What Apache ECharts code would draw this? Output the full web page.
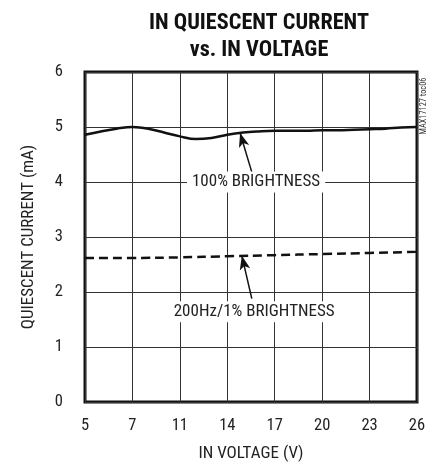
<!DOCTYPE html>
<html><head><meta charset="utf-8">
<script src="https://cdn.jsdelivr.net/npm/echarts@6/dist/echarts.min.js"></script>
<style>html,body{margin:0;padding:0;background:#fff}#c{width:429px;height:467px}</style>
</head><body><div id="c"></div>
<script>
// Tick labels as printed on the reference (position 8 V is printed "7")
const xTickValues = [5, 8, 11, 14, 17, 20, 23, 26];
const xTickLabels = ['5', '7', '11', '14', '17', '20', '23', '26'];
const yTickLabels = ['0', '1', '2', '3', '4', '5', '6'];

const solidVoltage = [5, 6, 7, 8, 9, 10, 11, 12, 13, 14, 15, 16, 17, 18, 19, 20, 21, 22, 23, 24, 25, 26];
const solidCurrent = [4.86, 4.92, 4.97, 5.00, 4.97, 4.90, 4.83, 4.78, 4.80, 4.86, 4.90, 4.92, 4.93, 4.93, 4.93, 4.94, 4.94, 4.95, 4.96, 4.97, 4.99, 5.00];

const dashVoltage = [5, 8, 11, 14, 17, 20, 23, 26];
const dashCurrent = [2.62, 2.62, 2.63, 2.65, 2.67, 2.69, 2.71, 2.73];

// pick a narrow font if one is installed, otherwise a regular one
const cv = document.createElement('canvas').getContext('2d');
function w(font, txt) { cv.font = font; return cv.measureText(txt).width; }
function has(fam) {
  const t = 'mmmmwwwwIIIIllll0123';
  return w('72px "' + fam + '", monospace', t) !== w('72px monospace', t) ||
         w('72px "' + fam + '", serif', t) !== w('72px serif', t);
}
let FAM = 'Liberation Sans';
for (const f of ['Liberation Sans Narrow', 'Arial Narrow', 'Roboto Condensed', 'DejaVu Sans Condensed']) {
  if (has(f)) { FAM = f; break; }
}
const FONT = '"' + FAM + '", "Liberation Sans", Arial, sans-serif';
function fit(txt, target, weight) { return 100 * target / w((weight || 'normal') + ' 100px ' + FONT, txt); }

const titleSize = Math.min(23, fit('IN QUIESCENT CURRENT', 220, 'bold'));
const nameSize = Math.min(17, (fit('IN VOLTAGE (V)', 104) + fit('QUIESCENT CURRENT (mA)', 198)) / 2);
const annSize = Math.min(17, fit('100% BRIGHTNESS', 132));
const tickSize = 16.5;
const tagSize = Math.min(9, fit('MAX17127 toc06', 57));

const chart = echarts.init(document.getElementById('c'));
chart.setOption({
  animation: false,
  backgroundColor: '#fff',
  title: {
    text: 'IN QUIESCENT CURRENT\nvs. IN VOLTAGE',
    left: 254, top: 5, textAlign: 'center',
    textStyle: { fontFamily: FONT, fontWeight: 'bold', fontSize: titleSize, lineHeight: 27, color: '#111' }
  },
  grid: { left: 85, right: 12, top: 72, bottom: 64, show: true, borderColor: '#111', borderWidth: 3, backgroundColor: 'transparent' },
  xAxis: {
    type: 'value', min: 5, max: 26, interval: 3,
    name: 'IN VOLTAGE (V)', nameLocation: 'middle', nameGap: 43,
    nameTextStyle: { fontFamily: FONT, fontSize: nameSize, color: '#222' },
    axisLine: { show: false }, axisTick: { show: false },
    axisLabel: { margin: 15, fontFamily: FONT, fontSize: tickSize, color: '#222',
      formatter: v => { const i = xTickValues.indexOf(v); return i >= 0 ? xTickLabels[i] : ''; } },
    splitLine: { show: true, lineStyle: { color: '#333', width: 1 } }
  },
  yAxis: {
    type: 'value', min: 0, max: 6, interval: 1,
    name: 'QUIESCENT CURRENT (mA)', nameLocation: 'middle', nameGap: 48, nameRotate: 90,
    nameTextStyle: { fontFamily: FONT, fontSize: nameSize, color: '#222' },
    axisLine: { show: false }, axisTick: { show: false },
    axisLabel: { margin: 22, fontFamily: FONT, fontSize: tickSize, color: '#222',
      formatter: v => yTickLabels[Math.round(v)] },
    splitLine: { show: true, lineStyle: { color: '#333', width: 1 } }
  },
  series: [
    {
      type: 'line', smooth: 0.4, symbol: 'none',
      data: solidVoltage.map((v, i) => [v, solidCurrent[i]]),
      lineStyle: { color: '#111', width: 2.5 },
      markLine: {
        silent: true, symbol: ['none', 'arrow'], symbolSize: [8, 14],
        lineStyle: { color: '#111', width: 1.5, type: 'solid' }, label: { show: false },
        data: [[{ coord: [15.55, 4.18] }, { coord: [14.81, 4.89] }]]
      },
      markPoint: {
        silent: true, symbol: 'rect', symbolSize: 0,
        label: { show: true, position: 'inside', formatter: '100% BRIGHTNESS', fontFamily: FONT, fontSize: annSize, color: '#222',
          backgroundColor: '#fff', padding: [2, 5] },
        data: [{ coord: [15.82, 4.0] }]
      }
    },
    {
      type: 'line', smooth: true, symbol: 'none',
      data: dashVoltage.map((v, i) => [v, dashCurrent[i]]),
      lineStyle: { color: '#111', width: 2.5, type: [9, 5] },
      markLine: {
        silent: true, symbol: ['none', 'arrow'], symbolSize: [8, 14],
        lineStyle: { color: '#111', width: 1.5, type: 'solid' }, label: { show: false },
        data: [[{ coord: [15.55, 1.88] }, { coord: [14.92, 2.66] }]]
      },
      markPoint: {
        silent: true, symbol: 'rect', symbolSize: 0,
        label: { show: true, position: 'inside', formatter: '200Hz/1% BRIGHTNESS', fontFamily: FONT, fontSize: annSize, color: '#222',
          backgroundColor: '#fff', padding: [2, 5] },
        data: [{ coord: [15.7, 1.64] }]
      }
    }
  ],
  graphic: [{
    type: 'text', x: 424, y: 106, rotation: Math.PI / 2,
    style: { text: 'MAX17127 toc06', fontFamily: FONT, fontSize: tagSize, fill: '#333', align: 'center', verticalAlign: 'middle' }
  }]
});
</script></body></html>
